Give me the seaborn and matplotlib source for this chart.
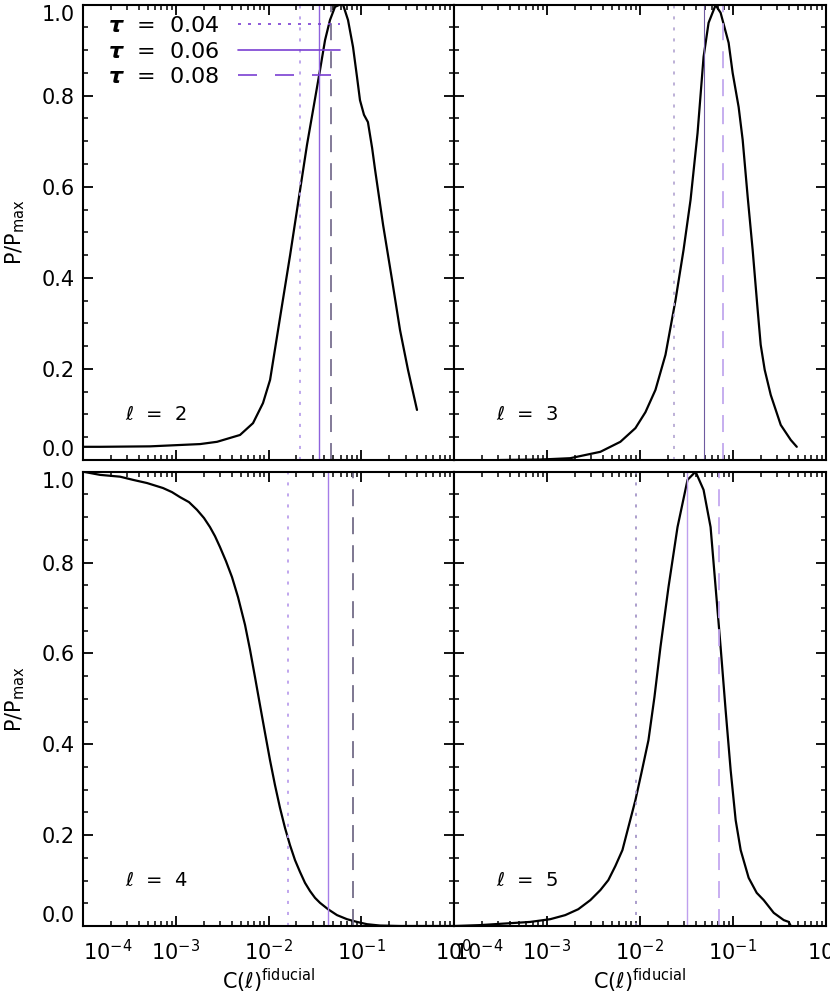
"""
Normalised likelihood of C(l) for l = 2..5, with tau reference lines.
"""
import matplotlib
matplotlib.use('Agg')
from matplotlib import pyplot as plt
from matplotlib.lines import Line2D
from matplotlib.ticker import MultipleLocator, FixedLocator
import pandas as pd
import seaborn as sns

# Curves: C(l)^fiducial vs P/Pmax
c_l2 = [1.0e-4, 1.53e-4, 5.28e-4, 1.83e-3, 2.79e-3, 4.93e-3, 6.81e-3, 8.72e-3,
        0.0104, 0.0133, 0.0171, 0.0219, 0.0260, 0.0302, 0.0359, 0.0407, 0.0460,
        0.0521, 0.0590, 0.0636, 0.0720, 0.0815, 0.0900, 0.0969, 0.107, 0.118,
        0.131, 0.141, 0.172, 0.215, 0.262, 0.319, 0.399]
p_l2 = [0.029, 0.029, 0.030, 0.035, 0.040, 0.055, 0.081, 0.125,
        0.176, 0.312, 0.450, 0.593, 0.692, 0.768, 0.856, 0.922, 0.966,
        0.995, 1.0, 1.0, 0.966, 0.907, 0.841, 0.790, 0.758, 0.742,
        0.685, 0.637, 0.516, 0.395, 0.285, 0.198, 0.110]

c_l3 = [3.13e-4, 8.45e-4, 1.78e-3, 3.75e-3, 6.16e-3, 8.94e-3, 0.01146, 0.01469,
        0.01883, 0.02414, 0.02944, 0.03503, 0.04168, 0.04837, 0.05476, 0.06516,
        0.07378, 0.0900, 0.0994, 0.1153, 0.1274, 0.1442, 0.1632, 0.1848, 0.1991,
        0.2199, 0.2553, 0.3272, 0.4195, 0.4867]
p_l3 = [0.0, 0.001, 0.004, 0.018, 0.040, 0.070, 0.105, 0.154,
        0.231, 0.351, 0.461, 0.571, 0.718, 0.885, 0.960, 0.999,
        0.982, 0.916, 0.850, 0.775, 0.703, 0.578, 0.461, 0.329, 0.253,
        0.198, 0.143, 0.077, 0.044, 0.029]

c_l4 = [1.0e-4, 1.525e-4, 2.51e-4, 3.46e-4, 4.90e-4, 7.29e-4, 9.11e-4, 1.111e-3,
        1.389e-3, 1.695e-3, 2.016e-3, 2.34e-3, 2.65e-3, 3.00e-3, 3.48e-3, 4.04e-3,
        4.69e-3, 5.58e-3, 6.32e-3, 7.15e-3, 8.10e-3, 9.17e-3, 0.01038, 0.01175,
        0.0133, 0.01506, 0.01705, 0.01931, 0.02186, 0.02474, 0.02802, 0.03172,
        0.03592, 0.04381, 0.05476, 0.07021, 0.0900, 0.1153, 0.1593, 0.2617, 1.0]
p_l4 = [1.0, 0.993, 0.989, 0.982, 0.975, 0.964, 0.955, 0.944,
        0.933, 0.916, 0.898, 0.878, 0.858, 0.834, 0.803, 0.768,
        0.724, 0.663, 0.608, 0.548, 0.486, 0.425, 0.365, 0.310,
        0.260, 0.216, 0.178, 0.145, 0.119, 0.095, 0.077, 0.062,
        0.051, 0.037, 0.024, 0.015, 0.009, 0.004, 0.001, 0.0, 0.0]

c_l5 = [1.0e-4, 1.91e-4, 6.60e-4, 1.084e-3, 1.573e-3, 2.172e-3, 2.93e-3, 3.75e-3,
        4.57e-3, 5.44e-3, 6.48e-3, 7.52e-3, 8.94e-3, 0.01038, 0.01235, 0.01433,
        0.01663, 0.02029, 0.02537, 0.03251, 0.03967, 0.04837, 0.05755,
        0.06516, 0.07378, 0.08353, 0.0946, 0.1071, 0.1213, 0.1478, 0.1804,
        0.2146, 0.2750, 0.3525, 0.3991, 0.4195]
p_l5 = [0.0, 0.002, 0.009, 0.015, 0.024, 0.037, 0.057, 0.079,
        0.101, 0.132, 0.167, 0.218, 0.277, 0.337, 0.409, 0.504,
        0.614, 0.746, 0.878, 0.982, 1.0, 0.960, 0.878,
        0.746, 0.614, 0.475, 0.343, 0.233, 0.167, 0.106, 0.073,
        0.057, 0.029, 0.013, 0.009, 0.0]

# C(l) predicted for tau = 0.04, 0.06, 0.08
tau_labels = ['0.04', '0.06', '0.08']
tau_l2 = [0.0219, 0.0353, 0.0475]
tau_l3 = [0.0234, 0.0487, 0.0781]
tau_l4 = [0.0161, 0.0442, 0.0820]
tau_l5 = [0.0091, 0.0323, 0.0714]

multipoles = [2, 3, 4, 5]
x_ticks = [1e-4, 1e-3, 1e-2, 1e-1, 1.0]
y_ticks = [0.0, 0.2, 0.4, 0.6, 0.8, 1.0]

panels = [
    (c_l2, p_l2, tau_l2, ['#b9a0ea', '#8e62dc', '#787090']),
    (c_l3, p_l3, tau_l3, ['#b7aad4', '#6e5aa0', '#c2a8ee']),
    (c_l4, p_l4, tau_l4, ['#bb9fec', '#a57de8', '#736c88']),
    (c_l5, p_l5, tau_l5, ['#a596c8', '#bfa0ee', '#c4a8f0']),
]
line_styles = [(0, (1.7, 4.4)), '-', (0, (9.4, 6.1))]
line_widths = [1.3, 1.0, 1.3]

sns.set_style('ticks')
plt.rcParams['font.family'] = ['DejaVu Sans']
plt.rcParams['mathtext.fontset'] = 'dejavusans'
plt.rcParams.update({'text.color': 'black', 'axes.labelcolor': 'black',
                     'xtick.color': 'black', 'ytick.color': 'black'})

fig = plt.figure(figsize=(8.3, 9.97), dpi=100)
boxes = [
    [0.100, 0.5386, 0.447, 0.4568],
    [0.547, 0.5386, 0.448, 0.4568],
    [0.100, 0.0712, 0.447, 0.4557],
    [0.547, 0.0712, 0.448, 0.4557],
]

for i, (box, (cx, py, taus, cols)) in enumerate(zip(boxes, panels)):
    ax = fig.add_axes(box)
    df = pd.DataFrame({'C': cx, 'P': py})
    sns.lineplot(data=df, x='C', y='P', ax=ax, color='black', lw=1.6,
                 estimator=None, sort=False)
    for t, col, ls, lw in zip(taus, cols, line_styles, line_widths):
        ax.axvline(t, color=col, ls=ls, lw=lw if i != 1 or ls != '-' else 0.8)

    ax.set_xscale('log')
    ax.xaxis.set_major_locator(FixedLocator(x_ticks))
    ax.yaxis.set_major_locator(FixedLocator(y_ticks))
    ax.yaxis.set_minor_locator(MultipleLocator(0.05))
    ax.set_xlim(1e-4, 1.0)
    ax.set_ylim(0.0, 1.0)
    ax.yaxis.set_major_formatter(plt.FormatStrFormatter('%.1f'))
    for side in ['top', 'bottom', 'left', 'right']:
        ax.spines[side].set_visible(True)
        ax.spines[side].set_linewidth(1.5)
        ax.spines[side].set_color('black')
    ax.tick_params(which='both', direction='in', top=True, right=True,
                   color='black')
    ax.tick_params(which='major', length=7, width=1.3)
    ax.tick_params(which='minor', length=3.5, width=1.1)
    ax.tick_params(axis='x', labelsize=15, pad=9)
    ax.tick_params(axis='y', labelsize=15, pad=6)

    if i < 2:
        ax.tick_params(labelbottom=False)
        ax.set_xlabel('')
    else:
        ax.set_xlabel(r'C$(\ell)^{\rm fiducial}$', fontsize=15)
        ax.xaxis.set_label_coords(0.5, -0.09)
        xt = ax.xaxis.get_major_ticks()
        xt[0].label1.set_horizontalalignment('left')
    if i % 2 == 1:
        ax.tick_params(labelleft=False)
        ax.set_ylabel('')
    else:
        ax.set_ylabel(r'$\mathrm{P/P_{max}}$', fontsize=15)
        ax.yaxis.set_label_coords(-0.15, 0.5)
        yt = ax.yaxis.get_major_ticks()
        yt[0].label1.set_verticalalignment('bottom')
        yt[-1].label1.set_verticalalignment('top')

    ax.text(0.113, 0.10, r'$\ell$  =  %d' % multipoles[i], fontsize=14,
            transform=ax.transAxes, va='center', ha='left')

    if i == 0:
        legend_color = '#7a3fd2'
        handles = [
            Line2D([], [], color=legend_color, lw=1.2, ls=(0, (1.8, 4.2))),
            Line2D([], [], color=legend_color, lw=1.2, ls='-'),
            Line2D([], [], color=legend_color, lw=1.2, ls=(0, (11.4, 10.8))),
        ]
        labels = [r'$\boldsymbol{\tau}$  =  ' + t for t in tau_labels]
        ax.legend(handles, labels, loc='upper left',
                  bbox_to_anchor=(0.067, 0.975), frameon=False,
                  markerfirst=False, fontsize=16, handlelength=4.6,
                  handletextpad=0.85, labelspacing=0.25, borderpad=0,
                  borderaxespad=0)

plt.savefig('out.png', dpi=100)
